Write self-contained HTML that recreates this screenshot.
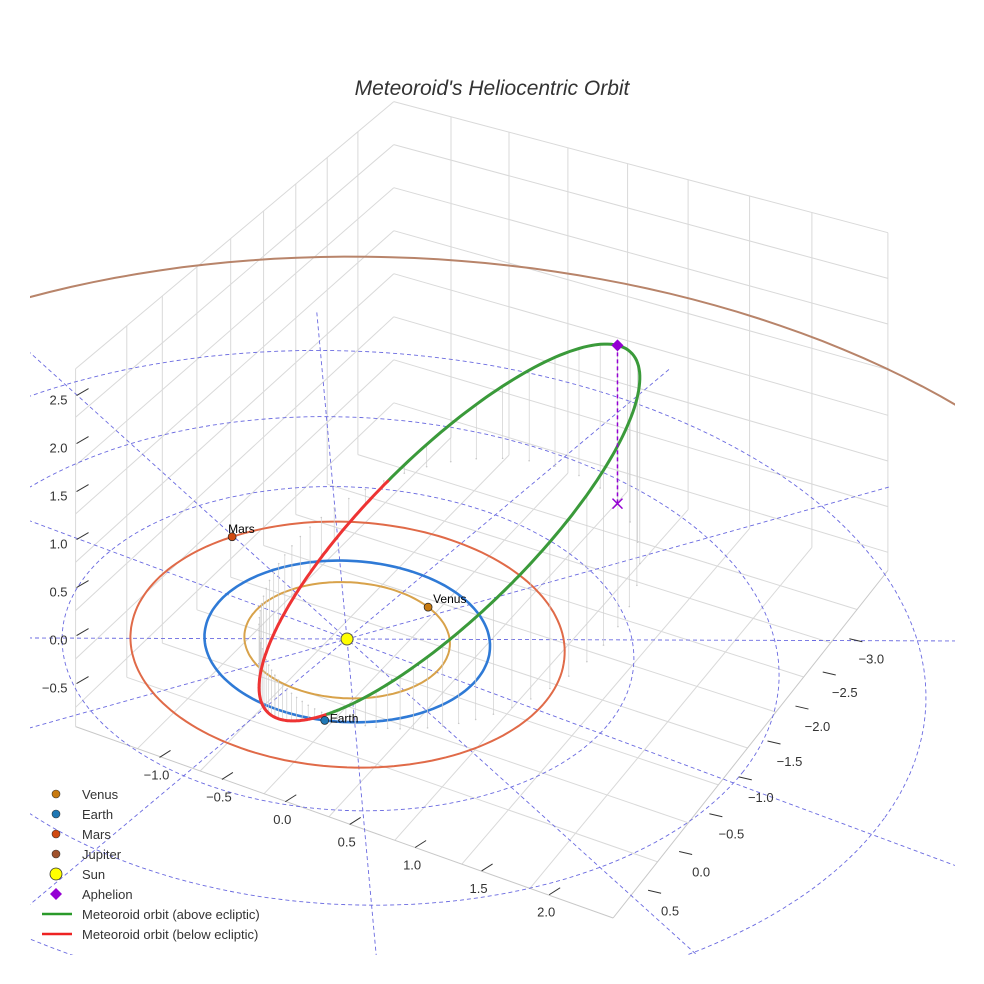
<!DOCTYPE html>
<html><head><meta charset="utf-8"><style>
body{margin:0;background:#fff;overflow:hidden}
svg{display:block;font-family:"Liberation Sans",sans-serif}
</style></head><body>
<svg id="chart" width="984" height="984" viewBox="0 0 984 984" xmlns="http://www.w3.org/2000/svg">
<defs><clipPath id="clip"><rect x="30" y="0" width="925" height="955"/></clipPath></defs>
<text x="492" y="95" text-anchor="middle" font-size="21" font-style="italic" fill="#333">Meteoroid's Heliocentric Orbit</text>
<g id="grid"></g>
<g id="plot" clip-path="url(#clip)"></g>
<g id="axes"></g>
<g id="legend"></g>
</svg>
<script>
const xTicks=[-1.0,-0.5,0.0,0.5,1.0,1.5,2.0];
const yTicks=[-3.0,-2.5,-2.0,-1.5,-1.0,-0.5,0.0,0.5];
const zTicks=[-0.5,0.0,0.5,1.0,1.5,2.0,2.5];
const planetNames=["Venus","Earth","Mars","Jupiter"];
const planetRadii=[0.72,1.0,1.52,5.5];
const planetCenterX=[0,0,0,0.3];
const planetCenterY=[0,0,0,-0.2];
const planetAnglesDeg=[-65,70.7,208.6,0];
const planetShown=[true,true,true,false];
const refCircleRadii=[1,2,3,4];
const radialAnglesDeg=[-31,3,29,59,95,123];
const orbitSemiLatus=[1.30];
const orbitEcc=[0.60];
const orbitPeriDir=[-0.27,0.80,-0.534];
const orbitPerpDir=[0.685,0.551,0.477];

const NS="http://www.w3.org/2000/svg";
function mk(parent,tag,attrs){const e=document.createElementNS(NS,tag);for(const k in attrs)e.setAttribute(k,attrs[k]);parent.appendChild(e);return e;}
function P(x,y,z){const ox=126*x-67*y, oy=42*x+69*y; const d=-oy/81; const s=1/(1+0.03*d); return [347+s*ox, 639+s*(oy-96*z)];}
function pathOf(pts){return pts.map((p,i)=>(i?"L":"M")+p[0].toFixed(1)+","+p[1].toFixed(1)).join("");}
const grid=document.getElementById('grid'),plot=document.getElementById('plot'),axes=document.getElementById('axes'),legend=document.getElementById('legend');

const X0=-1.5,X1=2.6,Y0=-3.6,Y1=1.2,Z0=-0.7,Z1=3.0;
function gl(a,b,c){const l=mk(grid,'path',{d:pathOf([a,b]),stroke:c||'#d9d9d9','stroke-width':1,fill:'none'});

}
yTicks.forEach(y=>gl(P(X0,y,Z0),P(X0,y,Z1)));
zTicks.concat([Z1]).forEach(z=>gl(P(X0,Y0,z),P(X0,Y1,z)));
xTicks.forEach(x=>gl(P(x,Y0,Z0),P(x,Y0,Z1)));
zTicks.concat([Z1]).forEach(z=>gl(P(X0,Y0,z),P(X1,Y0,z)));
xTicks.forEach(x=>gl(P(x,Y0,Z0),P(x,Y1,Z0)));
yTicks.forEach(y=>gl(P(X0,y,Z0),P(X1,y,Z0)));
gl(P(X0,Y1,Z0),P(X1,Y1,Z0),'#c8c8c8');gl(P(X1,Y0,Z0),P(X1,Y1,Z0),'#c8c8c8');
gl(P(X0,Y1,Z0),P(X0,Y1,Z1));gl(P(X1,Y0,Z0),P(X1,Y0,Z1));

zTicks.forEach(z=>{const p=P(-1.3,0.8,z);const lx=p[0]-62,ly=p[1];
const t=mk(axes,'text',{x:lx,y:ly+5,'text-anchor':'end','font-size':13,fill:'#333'});t.textContent=z.toFixed(1).replace('-','\u2212');


const l=mk(axes,'line',{x1:lx+9,y1:ly-4,x2:lx+21,y2:ly-11,stroke:'#333','stroke-width':1});

});
xTicks.forEach(x=>{const p=P(x,0.8,-0.8);const lx=p[0]-10,ly=p[1]+45;
const t=mk(axes,'text',{x:lx,y:ly+5,'text-anchor':'middle','font-size':13,fill:'#333'});t.textContent=x.toFixed(1).replace('-','\u2212');


const l=mk(axes,'line',{x1:lx+3,y1:ly-17,x2:lx+14,y2:ly-24,stroke:'#333','stroke-width':1});

});
yTicks.forEach(y=>{const p=P(2.4,y,-0.8);const lx=p[0]+40,ly=p[1]+48;
const t=mk(axes,'text',{x:lx,y:ly+5,'text-anchor':'middle','font-size':13,fill:'#333'});t.textContent=y.toFixed(1).replace('-','\u2212');


const l=mk(axes,'line',{x1:lx-22,y1:ly-20,x2:lx-9,y2:ly-17,stroke:'#333','stroke-width':1});

});

function circle(r,cx,cy){cx=cx||0;cy=cy||0;const pts=[];for(let a=0;a<=360;a+=2){const t=a*Math.PI/180;pts.push(P(cx+r*Math.cos(t),cy+r*Math.sin(t),0));}return pts;}
refCircleRadii.forEach(r=>{const e=mk(plot,'path',{d:pathOf(circle(r)),stroke:'#6a6ae0','stroke-width':0.9,'stroke-dasharray':'4,3',fill:'none'});

});
radialAnglesDeg.forEach(a=>{const t=a*Math.PI/180,R=4.6;const e=mk(plot,'path',{d:pathOf([P(-R*Math.cos(t),-R*Math.sin(t),0),P(R*Math.cos(t),R*Math.sin(t),0)]),stroke:'#6a6ae0','stroke-width':0.9,'stroke-dasharray':'4,3',fill:'none'});

});

const orbitColors=["#d8a24a","#2f7ad6","#e06a48","#b8846a"];
planetRadii.forEach((r,i)=>{const e=mk(plot,'path',{d:pathOf(circle(r,planetCenterX[i],planetCenterY[i])),stroke:orbitColors[i],'stroke-width':i==1?2.6:2,fill:'none'});

});

const p=orbitSemiLatus[0],ec=orbitEcc[0],U=orbitPeriDir,V=orbitPerpDir;
function orb(nu){const r=p/(1+ec*Math.cos(nu));const c=r*Math.cos(nu),s=r*Math.sin(nu);
return [c*U[0]+s*V[0],c*U[1]+s*V[1],c*U[2]+s*V[2]];}
const pts3=[];for(let d=0;d<=360;d+=1)pts3.push(orb(d*Math.PI/180));
pts3.forEach((q,i)=>{if(i%5==0){const e=mk(plot,'path',{d:pathOf([P(q[0],q[1],q[2]),P(q[0],q[1],0)]),stroke:'#cfcfcf','stroke-width':0.7,fill:'none'});


const f=P(q[0],q[1],0);const c=mk(plot,'circle',{cx:f[0],cy:f[1],r:0.8,fill:'#c8c8c8'});

}});
let seg=[],above=pts3[0][2]>=0;
function flush(){if(seg.length>1){const e=mk(plot,'path',{d:pathOf(seg.map(q=>P(q[0],q[1],q[2]))),stroke:above?'#3a9a3a':'#ee3333','stroke-width':3,fill:'none','stroke-linecap':'round'});

}}
pts3.forEach(q=>{const a=q[2]>=0;if(a!==above){seg.push(q);flush();seg=[q];above=a;}else seg.push(q);});flush();

const A=orb(Math.PI);const pa=P(A[0],A[1],A[2]),pf=P(A[0],A[1],0);
let e=mk(plot,'line',{x1:pa[0],y1:pa[1],x2:pf[0],y2:pf[1],stroke:'#9400d3','stroke-width':1.5,'stroke-dasharray':'4,3'});


e=mk(plot,'path',{d:`M${pf[0]-5},${pf[1]-5}L${pf[0]+5},${pf[1]+5}M${pf[0]+5},${pf[1]-5}L${pf[0]-5},${pf[1]+5}`,stroke:'#9400d3','stroke-width':1.5});


e=mk(plot,'path',{d:`M${pa[0]},${pa[1]-6}L${pa[0]+6},${pa[1]}L${pa[0]},${pa[1]+6}L${pa[0]-6},${pa[1]}Z`,fill:'#9400d3'});



const planetColors=["#c87a10","#1f77b4","#d04a10","#a0522d"];
planetNames.forEach((nm,i)=>{if(!planetShown[i])return;const t=planetAnglesDeg[i]*Math.PI/180;const q=P(planetRadii[i]*Math.cos(t),planetRadii[i]*Math.sin(t),0);
const c=mk(plot,'circle',{cx:q[0],cy:q[1],r:4,fill:planetColors[i],stroke:'#222','stroke-width':0.7});


const tx=mk(plot,'text',{x:q[0]+(i==2?-4:5),y:q[1]-4+(i==1?6:0),'font-size':12,fill:'#000'});tx.textContent=nm;

});
const sp=P(0,0,0);
e=mk(plot,'circle',{cx:sp[0],cy:sp[1],r:6,fill:'#ffff00',stroke:'#555','stroke-width':1});



const legItems=[["Venus","c","#c87a10"],["Earth","c","#1f77b4"],["Mars","c","#d04a10"],["Jupiter","c","#a0522d"],["Sun","s","#ffff00"],["Aphelion","d","#9400d3"],["Meteoroid orbit (above ecliptic)","l","#2a9a2a"],["Meteoroid orbit (below ecliptic)","l","#ee2222"]];
legItems.forEach((it,i)=>{const y=794+i*20;const g=mk(legend,'g',{});


if(it[1]=='c')mk(g,'circle',{cx:56,cy:y,r:4,fill:it[2],stroke:'#333','stroke-width':0.6});
else if(it[1]=='s')mk(g,'circle',{cx:56,cy:y,r:6,fill:it[2],stroke:'#333','stroke-width':0.8});
else if(it[1]=='d')mk(g,'path',{d:`M56,${y-6}L62,${y}L56,${y+6}L50,${y}Z`,fill:it[2]});
else mk(g,'line',{x1:42,y1:y,x2:72,y2:y,stroke:it[2],'stroke-width':2.5});
const t=mk(g,'text',{x:82,y:y+5,'font-size':13,fill:'#333'});t.textContent=it[0];});
</script>
</body></html>
